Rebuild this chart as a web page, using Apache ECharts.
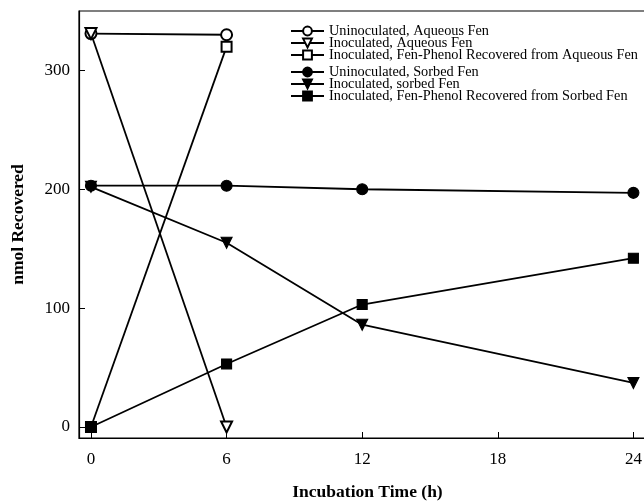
<!DOCTYPE html>
<html>
<head>
<meta charset="utf-8">
<script src="https://cdn.jsdelivr.net/npm/echarts@6/dist/echarts.min.js"></script>
<style>html,body{margin:0;padding:0;background:#fff;overflow:hidden}#c{width:644px;height:502px}</style>
</head>
<body>
<div id="c"></div>
<script>
const xTicks = [0, 6, 12, 18, 24];
const yTicks = [0, 100, 200, 300];
const seriesNames = [
  "Uninoculated, Aqueous Fen",
  "Inoculated, Aqueous Fen",
  "Inoculated, Fen-Phenol Recovered from Aqueous Fen",
  "Uninoculated, Sorbed Fen",
  "Inoculated, sorbed Fen",
  "Inoculated, Fen-Phenol Recovered from Sorbed Fen"
];
const hoursAqueous = [0, 6];
const hoursSorbed = [0, 6, 12, 24];
const uninocAqueous = [331, 330];
const inocAqueous = [331, 0];
const phenolAqueous = [0, 320];
const uninocSorbed = [203, 203, 200, 197];
const inocSorbed = [202, 155, 86, 37];
const phenolSorbed = [0, 53, 103, 142];

const FONT = "Liberation Serif";
function pairs(xs, ys) { return xs.map((x, i) => [x, ys[i]]); }
function mk(name, xs, ys, symbol, size, rotate, z) {
  return {
    name: name, type: 'line', data: pairs(xs, ys),
    symbol: symbol, symbolSize: size, symbolRotate: rotate || 0,
    lineStyle: { color: '#000', width: 1.8 },
    itemStyle: { color: '#000', borderColor: '#000', borderWidth: 1.1 },
    emphasis: { disabled: true },
    animation: false, z: z
  };
}
const chart = echarts.init(document.getElementById('c'), null, { renderer: 'canvas' });
const legendCommon = {
  orient: 'vertical', left: 290, itemWidth: 33, itemHeight: 11, itemGap: -2,
  textStyle: { fontFamily: FONT, fontSize: 14.3, color: '#000', lineHeight: 11 },
  padding: 0, selectedMode: false
};
chart.setOption({
  backgroundColor: '#fff',
  animation: false,
  grid: { left: 79, top: 11, width: 577, height: 427, show: true, borderColor: '#000', borderWidth: 1.2, containLabel: false, outerBoundsMode: 'none' },
  legend: [
    Object.assign({ top: 24, data: seriesNames.slice(0, 3) }, legendCommon),
    Object.assign({ top: 65, data: seriesNames.slice(3, 6) }, legendCommon)
  ],
  xAxis: {
    type: 'value', min: -0.53, max: 25,
    name: 'Incubation Time (h)', nameLocation: 'middle', nameGap: 45,
    nameTextStyle: { fontFamily: FONT, fontSize: 17.5, fontWeight: 'bold', color: '#000' },
    axisLine: { show: true, onZero: false, lineStyle: { color: '#000', width: 1.2 } },
    axisTick: { show: true, inside: true, length: 6, customValues: xTicks, lineStyle: { color: '#000' } },
    axisLabel: { customValues: xTicks, margin: 13, fontFamily: FONT, fontSize: 17, color: '#000' },
    splitLine: { show: false }
  },
  yAxis: {
    type: 'value', min: -9.3, max: 350,
    name: 'nmol Recovered', nameLocation: 'middle', nameGap: 52,
    nameTextStyle: { fontFamily: FONT, fontSize: 17.5, fontWeight: 'bold', color: '#000' },
    axisLine: { show: true, onZero: false, lineStyle: { color: '#000', width: 1.2 } },
    axisTick: { show: true, inside: true, length: 6, customValues: yTicks, lineStyle: { color: '#000' } },
    axisLabel: { customValues: yTicks, margin: 9, fontFamily: FONT, fontSize: 17, color: '#000' },
    splitLine: { show: false }
  },
  series: [
    mk(seriesNames[0], hoursAqueous, uninocAqueous, 'emptyCircle', 11, 0, 2),
    mk(seriesNames[1], hoursAqueous, inocAqueous, 'emptyTriangle', 11, 180, 2),
    mk(seriesNames[2], hoursAqueous, phenolAqueous, 'emptyRect', 10, 0, 2),
    mk(seriesNames[3], hoursSorbed, uninocSorbed, 'circle', 11, 0, 3),
    mk(seriesNames[4], hoursSorbed, inocSorbed, 'triangle', 11, 180, 3),
    mk(seriesNames[5], hoursSorbed, phenolSorbed, 'rect', 10, 0, 3)
  ]
});
</script>
</body>
</html>
